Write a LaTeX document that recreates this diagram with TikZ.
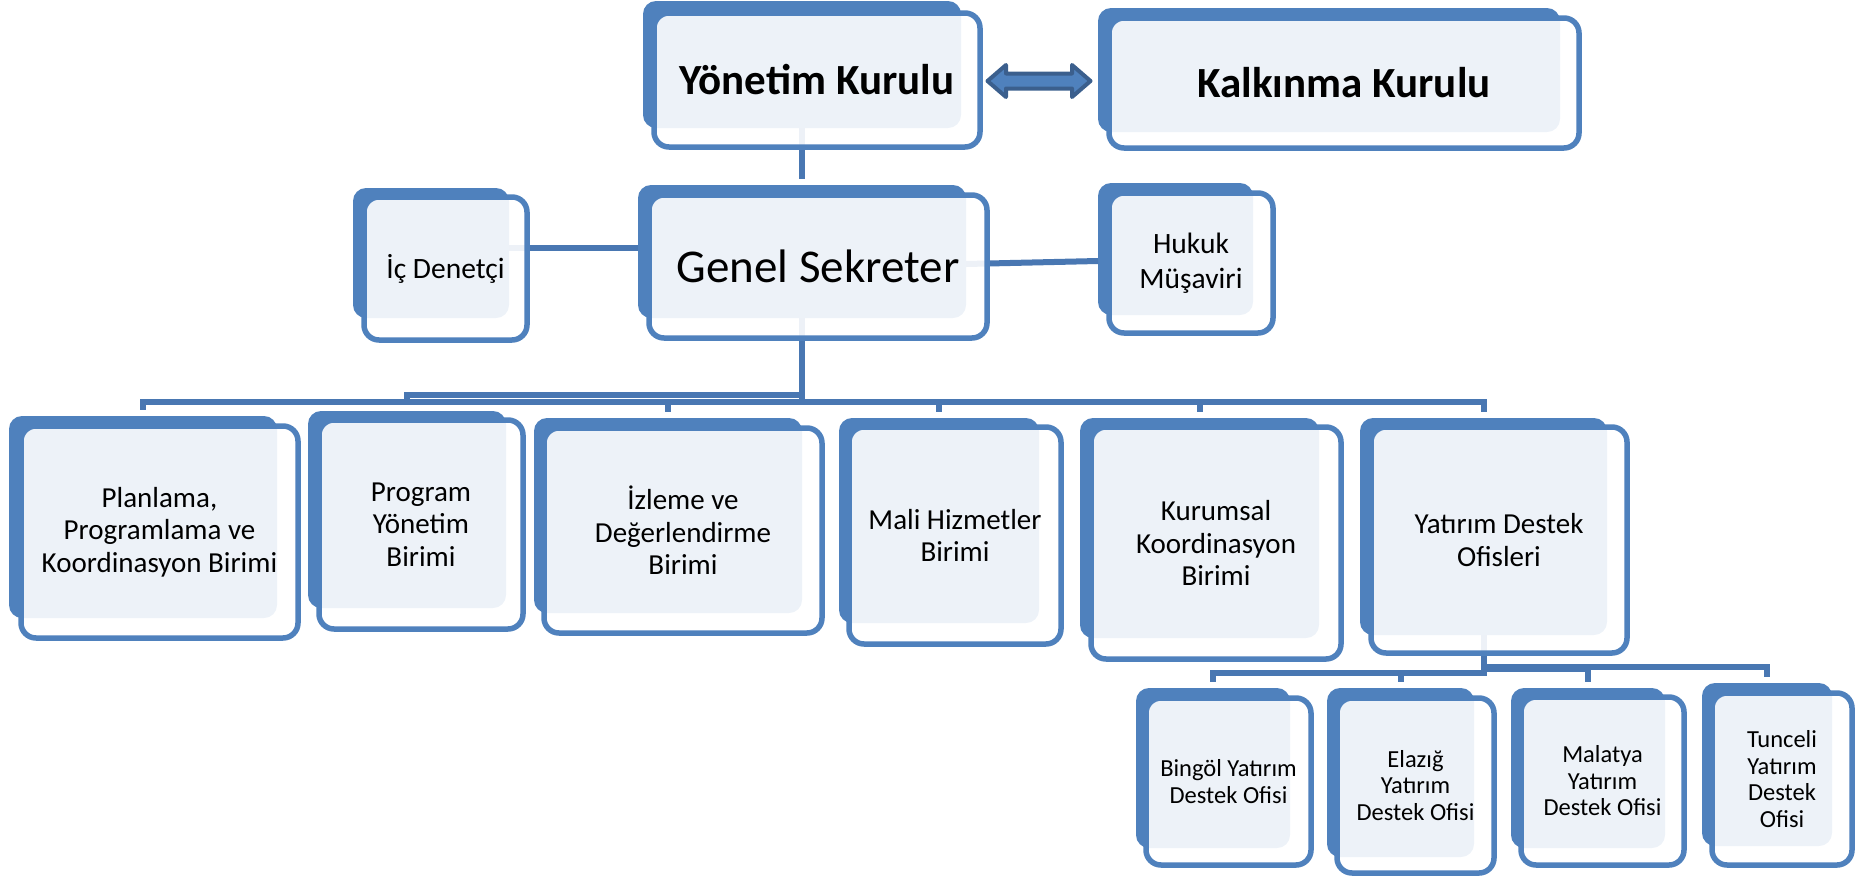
\documentclass[tikz,border=0pt]{standalone}
\usepackage{fontspec}
\setmainfont{Carlito}
\usetikzlibrary{calc}
\definecolor{acc}{HTML}{4F81BD}
\definecolor{conn}{HTML}{4977B2}
\definecolor{arrb}{HTML}{3B5F8D}
\tikzset{
 dk/.style={fill=acc, rounded corners=13pt, inner sep=0pt, outer sep=0pt},
 ob/.style={draw=acc, line width=5.5pt, fill=white, fill opacity=0.9, text opacity=1, rounded corners=15pt, inner sep=0pt, outer sep=0pt, align=center, text=black},
 cn/.style={draw=conn, line width=6pt},
 dblarrow/.style={draw=arrb, fill=acc, line width=4pt, line join=round},
 big/.style={font={\fontsize{43}{52}\selectfont\bfseries}},
 gen/.style={font={\fontsize{47}{56}\selectfont}},
 mid/.style={font={\fontsize{29}{32.5}\selectfont}},
 side/.style={font={\fontsize{29.5}{35}\selectfont}},
 sm/.style={font={\fontsize{24.5}{26.5}\selectfont}},
}
\newcommand\dbox[5]{\node[dk, minimum width={#4-#2}, minimum height={#5-#3}] (#1) at ({(#2+#4)/2},{(#3+#5)/2}) {};}
\newcommand\obox[7]{\node[ob, #6, minimum width={#4-#2}, minimum height={#5-#3}] (#1) at ({(#2+#4)/2},{(#3+#5)/2}) {#7};}
\begin{document}
\begin{tikzpicture}[x=1pt,y=-1pt]
\useasboundingbox (0,0) rectangle (1856,876);
% dark back boxes
\dbox{ykd}{643}{1}{961}{128}
\dbox{kkd}{1098}{8}{1560}{132}
\dbox{gsd}{638}{185}{966}{318}
\dbox{icd}{353}{188}{509}{318}
\dbox{hkd}{1098}{183}{1253}{315}
\dbox{pld}{9}{416}{277}{618}
\dbox{prd}{308}{411}{506}{608}
\dbox{izd}{534}{418}{802}{613}
\dbox{mad}{839}{418}{1039}{623}
\dbox{kud}{1080}{418}{1319}{638}
\dbox{yad}{1360}{418}{1607}{635}
\dbox{bid}{1136}{688}{1290}{848}
\dbox{eld}{1327}{688}{1474}{857}
\dbox{mtd}{1511}{688}{1665}{848}
\dbox{tud}{1702}{683}{1832}{846}
% connectors
\coordinate (busA) at (0,401.5);
\coordinate (busP) at (0,395);
\coordinate (busB) at (0,673);
\coordinate (busM) at (0,669);
\coordinate (busT) at (0,667);
\draw[cn] (ykd.south) -- ([yshift=6pt]gsd.north);
\draw[cn] ([yshift=5pt]icd.east) -- ([yshift=5pt]icd.east -| gsd.west);
\draw[cn] ([yshift=-12.5pt]gsd.east) -- ([yshift=-12pt]hkd.west);
\foreach \c in {pld,izd,mad,kud,yad}
  \draw[cn] (gsd.south) |- (busA -| \c.north) -- ([yshift=6pt]\c.north);
\draw[cn] (gsd.south) |- (busP -| prd.north) -- ([yshift=6pt]prd.north);
\foreach \c in {bid,eld}
  \draw[cn] (yad.south) |- (busB -| \c.north) -- ([yshift=6pt]\c.north);
\draw[cn] (yad.south) |- (busM -| mtd.north) -- ([yshift=6pt]mtd.north);
\draw[cn] (yad.south) |- (busT -| tud.north) -- ([yshift=6pt]tud.north);
% front boxes
\obox{yk}{654}{13}{980}{147}{big}{Yönetim Kurulu}
\obox{kk}{1109}{18}{1579}{148}{big}{Kalkınma Kurulu}
\obox{gs}{649}{195}{987}{338}{gen}{Genel Sekreter}
\obox{ic}{364}{197}{527}{340}{side}{İç Denetçi}
\obox{hk}{1109}{193}{1273}{333}{side}{Hukuk\\Müşaviri}
\obox{pl}{21}{426}{298}{638}{mid}{Planlama,\\Programlama ve\\Koordinasyon Birimi}
\obox{pr}{319}{420}{523}{629}{mid}{Program\\Yönetim\\Birimi}
\obox{iz}{544}{428}{822}{633}{mid}{İzleme ve\\Değerlendirme\\Birimi}
\obox{ma}{849}{427}{1061}{644}{mid}{Mali Hizmetler\\Birimi}
\obox{ku}{1091}{427}{1341}{659}{mid}{Kurumsal\\Koordinasyon\\Birimi}
\obox{ya}{1371}{427}{1627}{653}{mid}{Yatırım Destek\\Ofisleri}
\obox{bi}{1146}{698}{1311}{865}{sm}{Bingöl Yatırım\\Destek Ofisi}
\obox{el}{1337}{698}{1494}{873}{sm}{Elazığ\\Yatırım\\Destek Ofisi}
\obox{mt}{1521}{697}{1684}{865}{sm}{Malatya\\Yatırım\\Destek Ofisi}
\obox{tu}{1712}{693}{1852}{865}{sm}{Tunceli\\Yatırım\\Destek\\Ofisi}
% double arrow between the boards
\coordinate (am) at ($(yk.east)!0.5!(kkd.west)+(0,6)$);
\draw[dblarrow, shift={(am)}] (-51.5,0) -- (-33,-16) -- (-33,-7.5) -- (33,-7.5) -- (33,-16) -- (51.5,0)
  -- (33,16) -- (33,7.5) -- (-33,7.5) -- (-33,16) -- cycle;
\end{tikzpicture}
\end{document}
